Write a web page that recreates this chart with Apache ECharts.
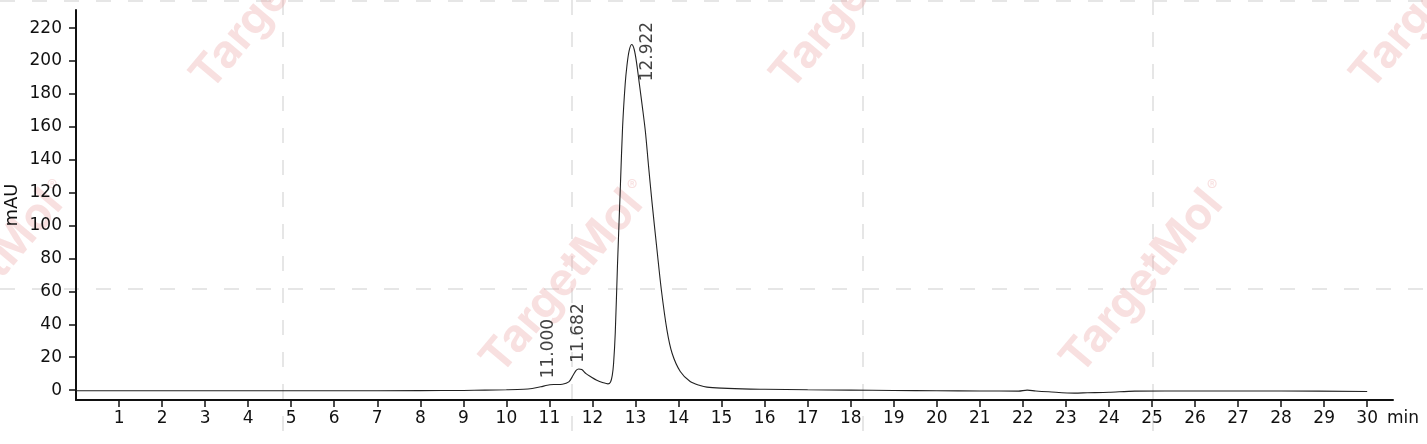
<!DOCTYPE html>
<html>
<head>
<meta charset="utf-8">
<style>html,body{margin:0;padding:0;background:#fff;}#chart{width:1427px;height:444px;}</style>
<script src="https://cdn.jsdelivr.net/npm/echarts@6/dist/echarts.min.js"></script>
</head>
<body>
<div id="chart"></div>
<script>
// Retention times (min) and absorbance (mAU)
const times = [0, 2, 4, 6, 8, 9, 9.5, 10, 10.4, 10.6, 10.8, 10.95, 11.1, 11.3, 11.45, 11.55, 11.62, 11.68, 11.75, 11.85, 11.95, 12.1, 12.25, 12.36, 12.42, 12.46, 12.49, 12.53, 12.58, 12.65, 12.70, 12.76, 12.80, 12.85, 12.91, 12.97, 13.03, 13.09, 13.16, 13.23, 13.30, 13.38, 13.5, 13.6, 13.73, 13.85, 14.04, 14.27, 14.5, 14.66, 15, 15.67, 16, 17, 18, 19, 20, 21, 21.9, 22.1, 22.3, 22.6, 23.2, 23.5, 24, 24.6, 26, 28, 30];
const signal = [-0.4, -0.4, -0.4, -0.4, -0.3, -0.2, 0, 0.2, 0.5, 1.0, 2.0, 3.0, 3.4, 3.6, 5, 9, 12, 12.8, 12.5, 10, 8.3, 6, 4.5, 3.8, 5, 9, 16, 35, 75, 125, 160, 186, 197, 206, 210, 207, 198, 186, 172, 157, 137, 115, 85, 61, 36.6, 22.4, 11.3, 5.2, 2.8, 1.8, 1.2, 0.6, 0.5, 0.2, 0, -0.2, -0.4, -0.5, -0.6, 0, -0.5, -1.0, -1.8, -1.6, -1.3, -0.6, -0.5, -0.5, -0.8];
// Peak annotations: [label x, label anchor y, text]
const peakX = [10.97, 11.67, 13.27];
const peakY = [3.5, 13, 184];
const peakText = ['11.000', '11.682', '12.922'];
// Tick labels
const xTicks = [1,2,3,4,5,6,7,8,9,10,11,12,13,14,15,16,17,18,19,20,21,22,23,24,25,26,27,28,29,30];
const yTicks = [0,20,40,60,80,100,120,140,160,180,200,220];

const FONT = '"DejaVu Sans", sans-serif';
const chart = echarts.init(document.getElementById('chart'), null, {renderer: 'canvas'});

// watermark decoration
const W = 1427, H = 444;
const deco = [];
const dash = {stroke: '#e6e6e6', lineWidth: 2, lineDash: [15, 17]};
[283, 572, 863, 1153].forEach(x => deco.push({type: 'line', silent: true, z: -10, shape: {x1: x, y1: 0, x2: x, y2: H}, style: dash}));
[1, 289].forEach(y => deco.push({type: 'line', silent: true, z: -10, shape: {x1: 0, y1: y, x2: W, y2: y}, style: dash}));
const wm = [[-18, 282], [562, 282], [1142, 282], [272, -2], [852, -2], [1432, -2]];
wm.forEach(p => {
  deco.push({type: 'text', silent: true, z: -9, x: p[0], y: p[1], rotation: 50 * Math.PI / 180,
    style: {text: 'TargetMol', fill: 'rgba(235,160,160,0.33)', font: 'bold 45px Inter, sans-serif', align: 'center', verticalAlign: 'middle'}});
  deco.push({type: 'text', silent: true, z: -9, x: p[0] + 70, y: p[1] - 96,
    style: {text: '®', fill: 'rgba(235,160,160,0.33)', font: '16px Inter, sans-serif', align: 'center', verticalAlign: 'middle'}});
});

chart.setOption({
  animation: false,
  backgroundColor: '#fff',
  graphic: deco,
  grid: {left: 76, right: 34, top: 10, bottom: 44, containLabel: false, outerBoundsMode: 'none'},
  xAxis: {
    type: 'value', min: 0, max: 30.6,
    name: 'min', nameLocation: 'end', nameGap: -6,
    nameTextStyle: {color: '#111', fontSize: 17, fontFamily: FONT, verticalAlign: 'top', padding: [10, 0, 0, 0]},
    axisLine: {show: true, onZero: false, lineStyle: {color: '#111', width: 2}},
    axisTick: {show: true, length: 7, customValues: xTicks, lineStyle: {color: '#111', width: 1.5}},
    axisLabel: {customValues: xTicks, color: '#111', fontSize: 17, fontFamily: FONT, margin: 10},
    splitLine: {show: false}
  },
  yAxis: {
    type: 'value', min: -6, max: 231,
    name: 'mAU', nameLocation: 'middle', nameGap: 55, nameRotate: 90, nameMoveOverlap: false,
    nameTextStyle: {color: '#111', fontSize: 18, fontFamily: FONT},
    axisLine: {show: true, onZero: false, lineStyle: {color: '#111', width: 2}},
    axisTick: {show: true, length: 7, customValues: yTicks, lineStyle: {color: '#111', width: 1.5}},
    axisLabel: {customValues: yTicks, color: '#111', fontSize: 17, fontFamily: FONT, margin: 14},
    splitLine: {show: false}
  },
  series: [
    {
      type: 'line', data: times.map((t, i) => [t, signal[i]]),
      smooth: 0.3, showSymbol: false, symbol: 'none',
      lineStyle: {color: '#222', width: 1.1}, z: 5
    },
    {
      type: 'scatter', symbolSize: 0, z: 6,
      data: peakX.map((x, i) => ({value: [x, peakY[i]], name: peakText[i]})),
      label: {show: true, formatter: p => p.name, position: 'top', distance: 6, rotate: 90,
        align: 'left', verticalAlign: 'middle', color: '#111', fontSize: 17, fontFamily: FONT}
    }
  ]
});
</script>
</body>
</html>
